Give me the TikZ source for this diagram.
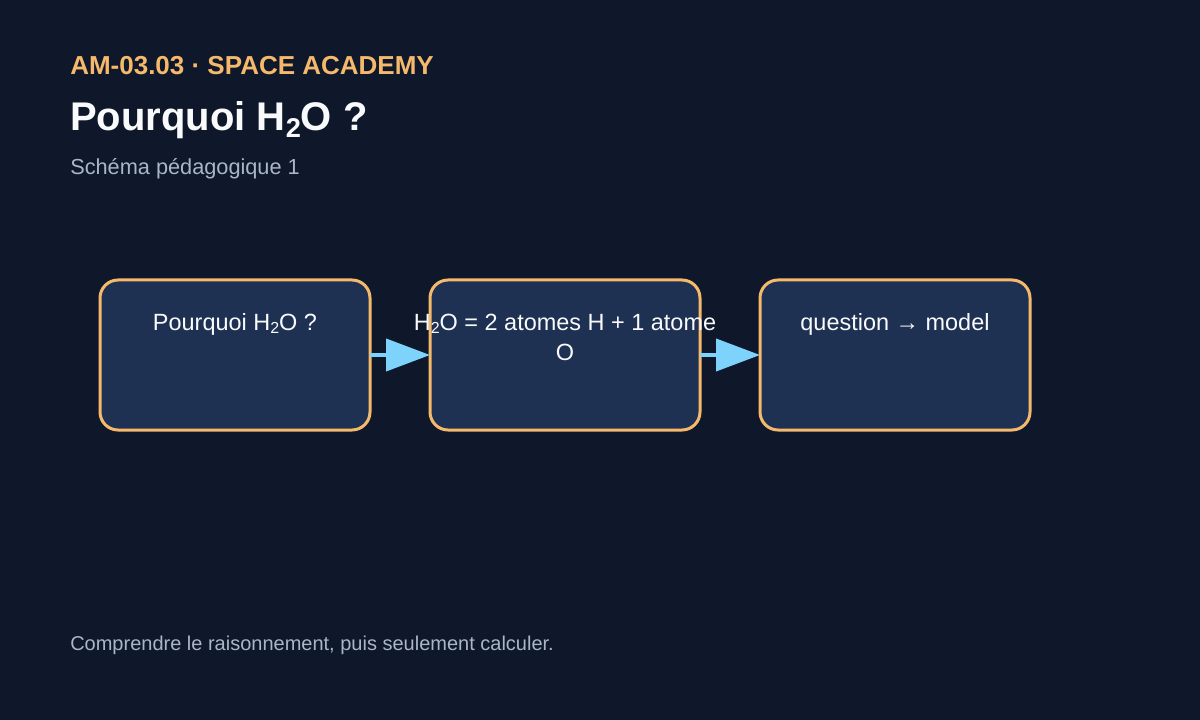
\documentclass[tikz,border=0pt]{standalone}
\usepackage{fontspec}
\setmainfont{Liberation Sans}
\usetikzlibrary{arrows.meta}
\definecolor{fond}{HTML}{0F172A}
\definecolor{bleuboite}{HTML}{1F3152}
\definecolor{orangebord}{HTML}{F5B96C}
\definecolor{ciel}{HTML}{7DD3FC}
\definecolor{grisclair}{HTML}{A9B6C9}
\definecolor{blanc}{HTML}{F8FAFC}
\newcommand{\indice}[1]{\raisebox{-0.3ex}{\scalebox{0.68}{#1}}}
\tikzset{
	boite/.style={draw=orangebord, fill=bleuboite, line width=2.25pt, rounded corners=13.5pt,
		minimum width=202.5pt, minimum height=112.5pt, inner sep=0pt, outer sep=0pt},
	texteboite/.style={anchor=base, text=blanc, align=center, inner sep=0pt,
		font=\fontsize{17.6}{22.5}\selectfont},
	fleche/.style={draw=ciel, line width=3pt, -{Triangle[length=33pt,width=24pt]}},
}
\begin{document}
\begin{tikzpicture}[x=0.75pt,y=-0.75pt]
	%Fond
	\useasboundingbox (0,0) rectangle (1200,720) ;
	\fill [fond] (0,0) rectangle (1200,720) ;
	%Titres
	\path [anchor=base west] (70,75)	node (entete) [inner sep=0pt, text=orangebord, font=\fontsize{19.5}{24}\selectfont\bfseries] {AM-03.03 · SPACE ACADEMY} ;
	\path [anchor=base west] (70,131)	node (titre) [inner sep=0pt, text=blanc, font=\fontsize{30}{36}\selectfont\bfseries] {Pourquoi H\indice{2}O ?} ;
	\path [anchor=base west] (70,175)	node (soustitre) [inner sep=0pt, text=grisclair, font=\fontsize{16.3}{20}\selectfont] {Schéma pédagogique 1} ;
	%Boites
	\node [boite] (boite1) at (235,355) {} ;
	\node [boite] (boite2) at (565,355) {} ;
	\node [boite] (boite3) at (895,355) {} ;
	%Textes
	\node [texteboite] (texte1) at (235,330) {Pourquoi H\indice{2}O ?} ;
	\node [texteboite] (texte2) at (565,360) {H\indice{2}O = 2 atomes H + 1 atome\\O} ;
	\node [texteboite] (texte3) at (895,330) {question → model} ;
	%Fleches
	\draw [fleche] (boite1.east) -- (boite2.west) ;
	\draw [fleche] (boite2.east) -- (boite3.west) ;
	%Pied
	\path [anchor=base west] (70,650)	node (pied) [inner sep=0pt, text=grisclair, font=\fontsize{15}{18}\selectfont] {Comprendre le raisonnement, puis seulement calculer.} ;
\end{tikzpicture}
\end{document}
